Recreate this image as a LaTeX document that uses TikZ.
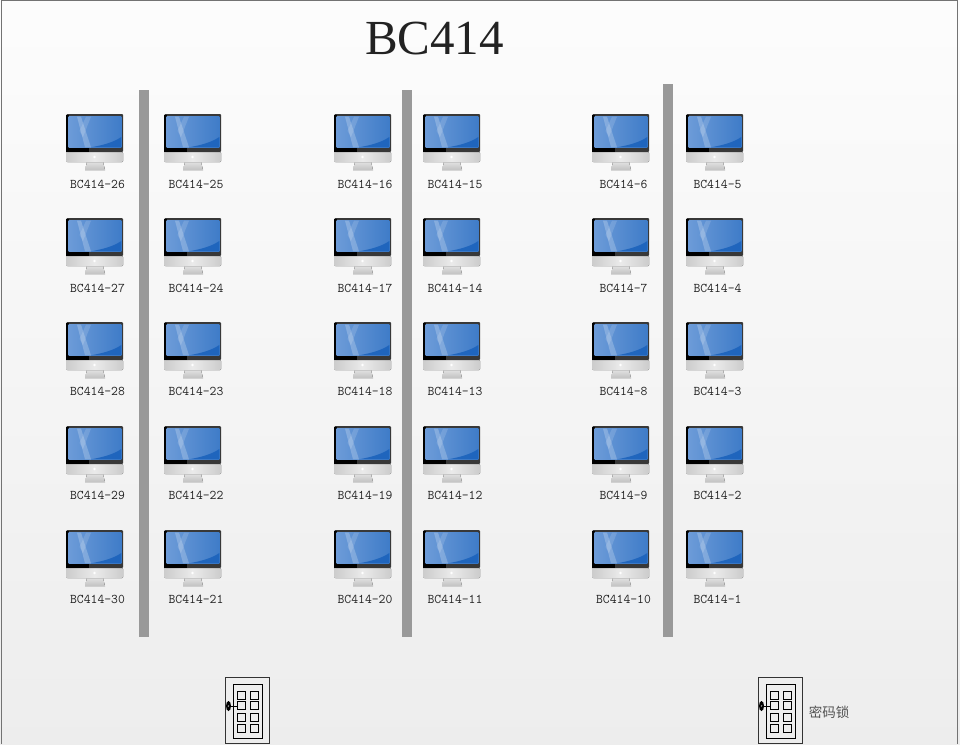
\documentclass[tikz,border=0pt]{standalone}
\usepackage{fontspec}
\usepackage{tikz}
\setmainfont{Liberation Serif}
\newfontfamily\cjkfont{Noto Sans CJK SC}
\usetikzlibrary{positioning,shadings}
\definecolor{barcol}{HTML}{999999}
\definecolor{txtcol}{HTML}{222222}
\definecolor{glassA}{HTML}{6C9BD8}
\definecolor{glassB}{HTML}{3F7CC8}
\definecolor{glassC}{HTML}{1C63BC}
\tikzset{
  pics/imac/.style={code={
    % chin and stand
    \fill[top color=black!12,bottom color=black!24] (21,49) -- (37,49) -- (39,57) -- (19,57) -- cycle;
    \fill[left color=black!20,right color=black!20,middle color=black!8,rounded corners=1pt] (0.3,39) rectangle (57,49);
    \fill[white] (28.5,44) circle (1.3);
    % glass
    \fill[black!78,rounded corners=1pt] (0.3,1) rectangle (57,39);
    \fill[black] (0.3,34) rectangle (23,39);
    \fill[black] (0.3,2) rectangle (2.7,39);
    \begin{scope}
      \clip (2.7,3.7) rectangle (55.3,34.3);
      \shade[left color=glassA,right color=glassB] (2.7,3.7) rectangle (55.3,34.3);
      \fill[white,opacity=.22] (11,3.7) -- (15,3.7) -- (25,34.3) -- (19,34.3) -- cycle;
      \fill[white,opacity=.14] (20,3.7) -- (25,3.7) -- (17,24) -- (13.5,18) -- cycle;
      \fill[glassC,opacity=.9] (25,34.3) .. controls (38,32) and (48,29) .. (55.3,24) -- (55.3,34.3) -- cycle;
    \end{scope}
  }}
}
\begin{document}
\begin{tikzpicture}[x=1pt,y=-1pt,
  lab/.style={font=\ttfamily\fontsize{13.3}{14}\selectfont,text=txtcol,inner sep=0pt},
  wall/.style={fill=barcol,draw=none,inner sep=0pt,minimum width=10pt,anchor=north}]
\useasboundingbox (0,0) rectangle (960,744);
\shade[top color=black!1,bottom color=black!7] (0,0) rectangle (960,744);
\draw[black!55,line width=1pt] (1,744) -- (1,.5) -- (957,.5) -- (957,744);
\node[font=\fontsize{49}{50}\selectfont,text=txtcol,inner sep=0pt] (title) at (434.5,39) {BC414};
% partitions
\node[wall,minimum height=547pt] (wallA) at (144,90) {};
\node[wall,minimum height=547pt] (wallB) at (407,90) {};
\node[wall,minimum height=553pt] (wallC) at (668,84) {};
% machines, counted per column
\foreach \cx/\lx/\first/\dir/\cn in {66/97.5/26/1/a,164/196/25/-1/b,334/365/16/1/c,423/455/15/-1/d,592/623.5/6/1/e,686/717.5/5/-1/f}{
  \foreach \row/\ry/\ly in {0/113/184,1/217/288,2/321/391.5,3/425/495,4/529/599}{
    \pgfmathtruncatemacro{\num}{\first+\dir*\row}
    \pic at (\cx,\ry) {imac};
    \node[lab] (pc\cn\row) at (\lx,\ly) {BC414-\num};
  }
}
% doors
\foreach \dx/\dn in {0/doorA,533/doorB}{
  \begin{scope}[xshift=\dx pt]
    \node[draw=black!80,line width=1.1pt,minimum width=44pt,minimum height=65.5pt,inner sep=0pt] (\dn) at (247.5,710.5) {};
    \node[draw=black,line width=.9pt,minimum width=29pt,minimum height=54pt,inner sep=0pt] (\dn in) at (247.5,711) {};
    \foreach \wx in {241,254}
      \foreach \wy in {695,705,717,728}
        \draw[black,line width=1pt] (\wx-4,\wy-4) rectangle (\wx+4,\wy+4);
    \fill[black] (228.5,706) ellipse (2.5 and 5);
    \fill[black!45] (228.5,706) circle (1);
    \draw[black,line width=1pt] (228.5,706) -- (237,706);
  \end{scope}
}
\node[font=\cjkfont\fontsize{13.5}{14}\selectfont,text=black!68,inner sep=0pt] (lock) at (829,712) {密码锁};
\end{tikzpicture}
\end{document}
